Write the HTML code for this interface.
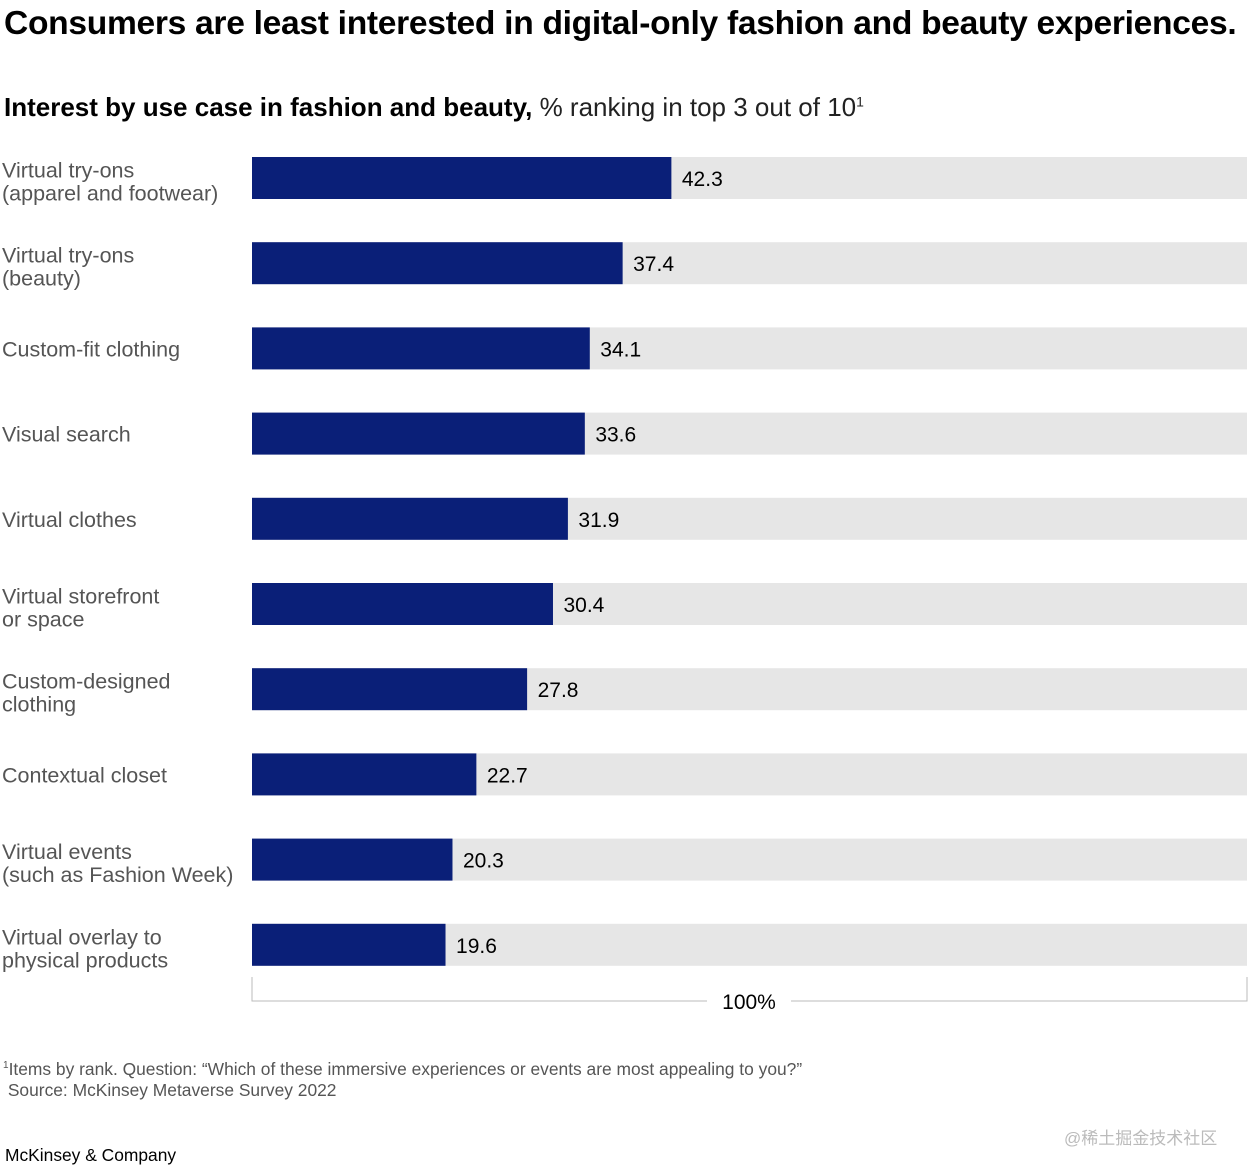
<!DOCTYPE html>
<html><head><meta charset="utf-8"><style>
body{margin:0;width:1256px;height:1175px;background:#fff;font-family:"Liberation Sans","Noto Sans CJK SC",sans-serif;position:relative;overflow:hidden}
.t{position:absolute;white-space:nowrap}
</style></head><body>
<div class="t" style="left:4px;top:5px;font-size:33.6px;font-weight:bold;color:#000;letter-spacing:-0.3px">Consumers are least interested in digital-only fashion and beauty experiences.</div>
<div class="t" style="left:4px;top:92px;font-size:26px;color:#000"><b>Interest by use case in fashion and beauty,</b> <span style="color:#222">% ranking in top 3 out of 10<sup style="font-size:14px">1</sup></span></div>
<svg id="chart" width="1256" height="1175" style="position:absolute;left:0;top:0"></svg>
<div class="t" style="left:3px;top:1055px;font-size:17.4px;color:#555;line-height:21px"><sup style="font-size:10px">1</sup>Items by rank. Question: “Which of these immersive experiences or events are most appealing to you?”<br>&nbsp;Source: McKinsey Metaverse Survey 2022</div>
<div class="t" style="left:5px;top:1145px;font-size:17.4px;color:#000">McKinsey &amp; Company</div>
<div class="t" style="left:1064px;top:1124px;font-size:17px;color:#bbb">@稀土掘金技术社区</div>
<script>
const categories=[["Virtual try-ons","(apparel and footwear)"],["Virtual try-ons","(beauty)"],["Custom-fit clothing"],["Visual search"],["Virtual clothes"],["Virtual storefront","or space"],["Custom-designed","clothing"],["Contextual closet"],["Virtual events","(such as Fashion Week)"],["Virtual overlay to","physical products"]];
const values=[42.3,37.4,34.1,33.6,31.9,30.4,27.8,22.7,20.3,19.6];
const labels=["42.3","37.4","34.1","33.6","31.9","30.4","27.8","22.7","20.3","19.6"];
const maxValue=100;
const svg=document.getElementById('chart');
const NS='http://www.w3.org/2000/svg';
const x0=252,x1=1247,y0=157,step=85.2,bh=42;
const xs=v=>x0+(x1-x0)*v/maxValue;
const ys=i=>y0+i*step;
function mk(t,a){const e=document.createElementNS(NS,t);for(const k in a)e.setAttribute(k,a[k]);svg.appendChild(e);return e;}
values.forEach((v,i)=>{
 const bg=mk('rect',{x:x0,y:ys(i),width:x1-x0,height:bh,fill:'#e6e6e6'});
 
 
 const b=mk('rect',{x:x0,y:ys(i),width:xs(v)-x0-1.5,height:bh,fill:'#0a1f78'});
 
 
 const tl=mk('text',{x:xs(v)+9,y:ys(i)+29,'font-size':21,fill:'#000','font-family':'Liberation Sans, sans-serif'});
 tl.textContent=labels[i];
 
 
 const lines=categories[i];
 const cy=ys(i)+bh/2;
 const off=lines.length>1?11:8;
 lines.forEach((ln,j)=>{
  const t=mk('text',{x:2,y:cy+off+(j-(lines.length-1)/2)*23,'font-size':21.5,fill:'#555','font-family':'Liberation Sans, sans-serif'});
  t.textContent=ln;
  
  
 });
});
const by=1001;
const br=mk('path',{d:`M${x0} 977V${by}H707M791 ${by}H${x1}V977`,stroke:'#bbb','stroke-width':1,fill:'none'});


const bt=mk('text',{x:749,y:by+8,'font-size':21,fill:'#000','text-anchor':'middle','font-family':'Liberation Sans, sans-serif'});
bt.textContent='100%';


</script>
</body></html>
